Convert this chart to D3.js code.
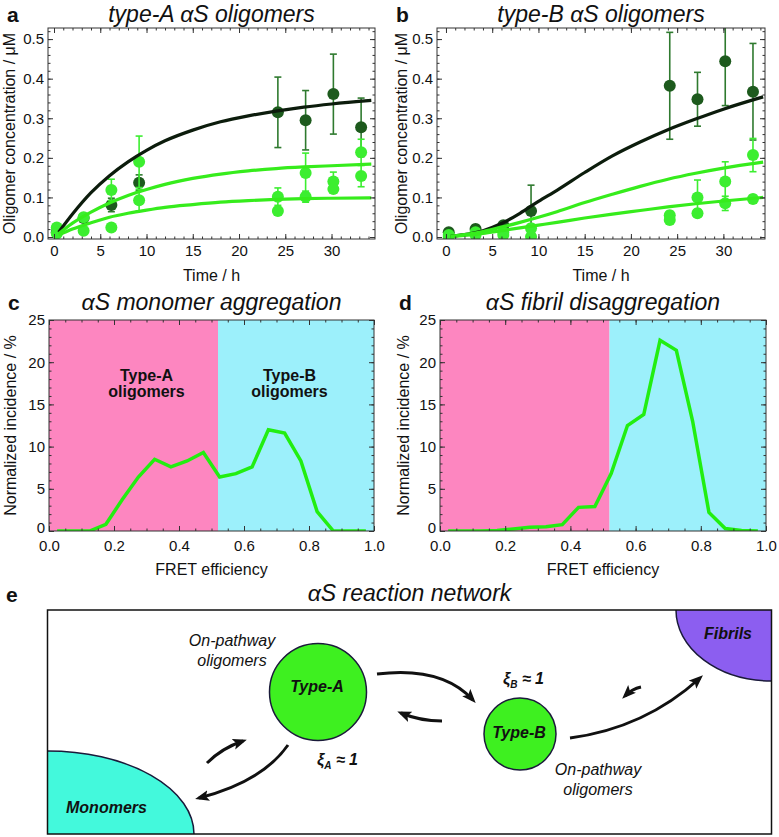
<!DOCTYPE html>
<html>
<head>
<meta charset="utf-8">
<script src="https://cdn.jsdelivr.net/npm/d3@7/dist/d3.min.js"></script>
<style>
  body { margin: 0; background: #fff; }
  svg { display: block; }
  text { font-family: "Liberation Sans", Arial, Helvetica, sans-serif; fill: #111; }
</style>
</head>
<body>
<svg id="fig" width="779" height="837"></svg>
<script>
// ---- values ----
const sampleTimes = [0.3, 3.2, 6.2, 9.2, 24.2, 27.2, 30.2, 33.2];

// a: type-A oligomers (uM)
const typeAHigh    = [0.012, 0.048, 0.081, 0.137, 0.315, 0.295, 0.361, 0.277];
const typeAHighErr = [0.004, 0.008, 0.017, 0.020, 0.089, 0.075, 0.101, 0.074];
const typeAMid     = [0.024, 0.050, 0.119, 0.190, 0.102, 0.162, 0.140, 0.214];
const typeAMidErr  = [0.005, 0.008, 0.027, 0.065, 0.022, 0.050, 0.024, 0.033];
const typeALow     = [0.009, 0.016, 0.024, 0.093, 0.066, 0.102, 0.121, 0.154];
const typeALowErr  = [0.004, 0.005, 0.005, 0.027, 0.008, 0.014, 0.010, 0.027];

// b: type-B oligomers (uM)
const typeBHigh    = [0.012, 0.020, 0.030, 0.066, 0.382, 0.348, 0.444, 0.367];
const typeBHighErr = [0.004, 0.011, 0.008, 0.065, 0.135, 0.068, 0.112, 0.122];
const typeBMid     = [0.005, 0.012, 0.012, 0.022, 0.055, 0.100, 0.140, 0.207];
const typeBMidErr  = [0.003, 0.004, 0.005, 0.010, 0.010, 0.044, 0.050, 0.042];
const typeBLow     = [0.000, 0.005, 0.005, 0.001, 0.043, 0.060, 0.085, 0.096];
const typeBLowErr  = [0.002, 0.003, 0.003, 0.003, 0.006, 0.010, 0.018, 0.010];

// model curves
const fitTimes = [0.5, 2, 4, 6, 8, 10, 12, 15, 18, 21, 24, 27, 30, 34.3];
const fitAHigh = [0.012, 0.058, 0.112, 0.155, 0.190, 0.219, 0.243, 0.270, 0.291, 0.306, 0.318, 0.328, 0.336, 0.345];
const fitAMid  = [0.008, 0.035, 0.063, 0.086, 0.105, 0.120, 0.133, 0.148, 0.159, 0.167, 0.173, 0.177, 0.180, 0.184];
const fitALow  = [0.005, 0.020, 0.036, 0.050, 0.060, 0.068, 0.075, 0.082, 0.088, 0.092, 0.095, 0.097, 0.098, 0.099];
const fitBHigh = [0.002, 0.006, 0.016, 0.034, 0.060, 0.090, 0.118, 0.163, 0.205, 0.240, 0.271, 0.298, 0.323, 0.354];
const fitBMid  = [0.002, 0.006, 0.014, 0.025, 0.037, 0.050, 0.064, 0.087, 0.108, 0.128, 0.146, 0.161, 0.174, 0.189];
const fitBLow  = [0.001, 0.004, 0.009, 0.016, 0.023, 0.030, 0.037, 0.048, 0.058, 0.067, 0.076, 0.084, 0.091, 0.100];

// c, d: FRET efficiency histograms (%)
const fretBins = [0.025, 0.075, 0.125, 0.175, 0.225, 0.275, 0.325, 0.375, 0.425, 0.475,
                  0.525, 0.575, 0.625, 0.675, 0.725, 0.775, 0.825, 0.875, 0.925, 0.975];
const monomerAggregation   = [0, 0, 0, 0.8, 3.7, 6.4, 8.5, 7.6, 8.3, 9.3,
                              6.4, 6.8, 7.6, 12.0, 11.6, 8.3, 2.3, 0, 0, 0];
const fibrilDisaggregation = [0, 0, 0, 0.05, 0.25, 0.45, 0.5, 0.75, 2.8, 2.9,
                              6.8, 12.5, 13.8, 22.6, 21.4, 13.0, 2.2, 0.3, 0.05, 0];
const typeSplit = 0.52;

const timeTicks = [0, 5, 10, 15, 20, 25, 30];
const concTicks = [0, 0.1, 0.2, 0.3, 0.4, 0.5];
const fretTicks = [0, 0.2, 0.4, 0.6, 0.8, 1.0];
const incidenceTicks = [0, 5, 10, 15, 20, 25];

let darkGreen = "#1d5a1d";
let darkBar = "#2f7a2f";
let lightGreen = "#3cee30";
let fitDark = "#0c1c0c";
let fitLight = "#36ec1c";
let pink = "#fd86c0";
let cyan = "#9cf0fb";
let lineGreen = "#22ee11";

const svg = d3.select("#fig");
const defs = svg.append("defs");

function makePanel(name, box, xDomain, yDomain) {
  let g = svg.append("g").attr("transform", "translate(" + box.x + "," + box.y + ")");
  let x = d3.scaleLinear().domain(xDomain).range([0, box.w]);
  let y = d3.scaleLinear().domain(yDomain).range([box.h, 0]);
  defs.append("clipPath").attr("id", "clip-" + name)
    .append("rect").attr("width", box.w).attr("height", box.h);
  let plot = g.append("g").attr("clip-path", "url(#clip-" + name + ")");
  return {g: g, plot: plot, x: x, y: y, box: box};
}

function inside(vals, scale) {
  let d = scale.domain();
  return vals.filter(v => v >= d[0] - 1e-9 && v <= d[1] + 1e-9);
}

function finishFrame(p, xMajor, xMinor, yMajor, yMinor, xFmt, yFmt, xPad) {
  let x = p.x, y = p.y, box = p.box;
  let axes = p.g.append("g");
  let put = (axis, tx, ty) => axes.append("g").attr("transform", "translate(" + tx + "," + ty + ")").call(axis);
  xMinor = inside(xMinor, x);
  yMinor = inside(yMinor, y);
  put(d3.axisBottom(x).tickValues(xMajor).tickSize(-5).tickPadding(xPad).tickFormat(xFmt), 0, box.h);
  put(d3.axisBottom(x).tickValues(xMinor).tickSize(-2.5).tickFormat(""), 0, box.h);
  put(d3.axisTop(x).tickValues(xMajor).tickSize(-5).tickFormat(""), 0, 0);
  put(d3.axisTop(x).tickValues(xMinor).tickSize(-2.5).tickFormat(""), 0, 0);
  put(d3.axisLeft(y).tickValues(yMajor).tickSize(-5).tickPadding(4).tickFormat(yFmt), 0, 0);
  put(d3.axisLeft(y).tickValues(yMinor).tickSize(-2.5).tickFormat(""), 0, 0);
  put(d3.axisRight(y).tickValues(yMajor).tickSize(-5).tickFormat(""), box.w, 0);
  put(d3.axisRight(y).tickValues(yMinor).tickSize(-2.5).tickFormat(""), box.w, 0);
  axes.selectAll(".domain").remove();
  axes.selectAll(".tick line").attr("stroke", "#333");
  axes.selectAll(".tick text").attr("fill", "#111")
    .style("font-family", "'Liberation Sans', Arial, sans-serif")
    .style("font-size", "15px");
  p.g.append("rect").attr("width", box.w).attr("height", box.h)
    .attr("fill", "none").attr("stroke", "#333").attr("stroke-width", 1);
}

function panelText(p, letter, title, xLabel, yLabel, yLabelX, xLabelY, titleY) {
  let box = p.box;
  svg.append("text").attr("x", box.x - 41).attr("y", titleY)
    .text(letter).style("font-weight", "bold").style("font-size", "21px");
  svg.append("text").attr("x", box.x + box.w / 2).attr("y", titleY)
    .text(title).attr("text-anchor", "middle")
    .style("font-style", "italic").style("font-size", "23px");
  svg.append("text").attr("x", box.x + box.w / 2).attr("y", box.y + box.h + xLabelY)
    .text(xLabel).attr("text-anchor", "middle").style("font-size", "16px");
  svg.append("text")
    .attr("transform", "translate(" + (box.x - yLabelX) + "," + (box.y + box.h / 2) + ") rotate(-90)")
    .text(yLabel).attr("text-anchor", "middle").style("font-size", "16px");
}

function drawSeries(p, values, errs, color, barColor) {
  let pts = sampleTimes.map((t, i) => ({t: t, v: values[i], e: errs[i]}));
  let bars = p.plot.append("g").attr("stroke", barColor).attr("stroke-width", 1.6);
  bars.selectAll("line.bar").data(pts).join("line").attr("class", "bar")
    .attr("x1", d => p.x(d.t)).attr("x2", d => p.x(d.t))
    .attr("y1", d => p.y(d.v - d.e)).attr("y2", d => p.y(d.v + d.e));
  bars.selectAll("line.capTop").data(pts).join("line").attr("class", "capTop")
    .attr("x1", d => p.x(d.t) - 3.5).attr("x2", d => p.x(d.t) + 3.5)
    .attr("y1", d => p.y(d.v + d.e)).attr("y2", d => p.y(d.v + d.e));
  bars.selectAll("line.capBot").data(pts).join("line").attr("class", "capBot")
    .attr("x1", d => p.x(d.t) - 3.5).attr("x2", d => p.x(d.t) + 3.5)
    .attr("y1", d => p.y(d.v - d.e)).attr("y2", d => p.y(d.v - d.e));
  p.plot.append("g").selectAll("circle").data(pts).join("circle")
    .attr("cx", d => p.x(d.t)).attr("cy", d => p.y(d.v)).attr("r", 6)
    .attr("fill", color);
}

function drawFit(p, values, color) {
  let line = d3.line().x(d => p.x(d[0])).y(d => p.y(d[1])).curve(d3.curveMonotoneX);
  p.plot.append("path").datum(fitTimes.map((t, i) => [t, values[i]]))
    .attr("d", line).attr("fill", "none").attr("stroke", color).attr("stroke-width", 3.2);
}

// ---- panels a, b ----
let timeMinor = d3.range(0, 35, 1);
let concMinor = d3.range(0, 0.54, 0.02);

let pa = makePanel("a", {x: 48, y: 28, w: 327, h: 211}, [-0.65, 34.7], [-0.005, 0.528]);
let pb = makePanel("b", {x: 437, y: 28, w: 328, h: 211}, [-0.97, 34.5], [-0.005, 0.528]);

drawSeries(pa, typeAHigh, typeAHighErr, darkGreen, darkBar);
drawSeries(pa, typeAMid, typeAMidErr, lightGreen, lightGreen);
drawSeries(pa, typeALow, typeALowErr, lightGreen, lightGreen);
drawFit(pa, fitAHigh, fitDark);
drawFit(pa, fitAMid, fitLight);
drawFit(pa, fitALow, fitLight);

drawSeries(pb, typeBHigh, typeBHighErr, darkGreen, darkBar);
drawSeries(pb, typeBMid, typeBMidErr, lightGreen, lightGreen);
drawSeries(pb, typeBLow, typeBLowErr, lightGreen, lightGreen);
drawFit(pb, fitBHigh, fitDark);
drawFit(pb, fitBMid, fitLight);
drawFit(pb, fitBLow, fitLight);

[pa, pb].forEach(p => finishFrame(p, timeTicks, timeMinor, concTicks, concMinor, d3.format("d"), d3.format(".1f"), 6));
panelText(pa, "a", "type-A \u03b1S oligomers", "Time / h", "Oligomer concentration / \u03bcM", 33, 42, 22);
panelText(pb, "b", "type-B \u03b1S oligomers", "Time / h", "Oligomer concentration / \u03bcM", 30, 42, 22);

// ---- panels c, d ----
let fretMinor = d3.range(0, 1.001, 0.05);
let incMinor = d3.range(0, 25.1, 1);

function drawHist(p, values, labels) {
  p.plot.append("rect").attr("x", p.x(0)).attr("y", 0)
    .attr("width", p.x(typeSplit) - p.x(0)).attr("height", p.box.h).attr("fill", pink);
  p.plot.append("rect").attr("x", p.x(typeSplit)).attr("y", 0)
    .attr("width", p.x(1) - p.x(typeSplit)).attr("height", p.box.h).attr("fill", cyan);
  if (labels) {
    [["Type-A", 0.30], ["Type-B", 0.74]].forEach(l => {
      let t = p.plot.append("text").attr("text-anchor", "middle")
        .style("font-weight", "bold").style("font-size", "16px");
      t.append("tspan").attr("x", p.x(l[1])).attr("y", 61).text(l[0]);
      t.append("tspan").attr("x", p.x(l[1])).attr("y", 77).text("oligomers");
    });
  }
  let line = d3.line().x((d, i) => p.x(fretBins[i])).y(d => p.y(d));
  p.plot.append("path").datum(values).attr("d", line)
    .attr("fill", "none").attr("stroke", lineGreen).attr("stroke-width", 3.5)
    .attr("stroke-linejoin", "miter");
}

let pc = makePanel("c", {x: 49, y: 320, w: 325, h: 211}, [0, 1], [0, 25]);
let pd = makePanel("d", {x: 440, y: 320, w: 326, h: 211}, [0, 1], [0, 25]);
drawHist(pc, monomerAggregation, true);
drawHist(pd, fibrilDisaggregation, false);
[pc, pd].forEach(p => finishFrame(p, fretTicks, fretMinor, incidenceTicks, incMinor, d3.format(".1f"), d3.format("d"), 9));
// lift the bottom "0" a little so it clears the x tick labels
[pc, pd].forEach(p => p.g.selectAll(".tick text").filter(function(d) { return d === 0 && this.textContent === "0"; })
  .attr("dy", "0.1em"));
panelText(pc, "c", "\u03b1S monomer aggregation", "FRET efficiency", "Normalized incidence / %", 33, 44, 310);
panelText(pd, "d", "\u03b1S fibril disaggregation", "FRET efficiency", "Normalized incidence / %", 31, 44, 310);

// ---- panel e: reaction network ----
let e = svg.append("g");
let eBox = {x: 47.5, y: 610, w: 724, h: 224};
defs.append("clipPath").attr("id", "clip-e").append("rect")
  .attr("x", eBox.x).attr("y", eBox.y).attr("width", eBox.w).attr("height", eBox.h);

svg.append("text").attr("x", 6).attr("y", 602).text("e")
  .style("font-weight", "bold").style("font-size", "21px");
svg.append("text").attr("x", eBox.x + eBox.w / 2).attr("y", 601).text("\u03b1S reaction network")
  .attr("text-anchor", "middle").style("font-style", "italic").style("font-size", "23px");

let shapes = e.append("g").attr("clip-path", "url(#clip-e)");
shapes.append("ellipse").attr("cx", eBox.x).attr("cy", eBox.y + eBox.h).attr("rx", 146.5).attr("ry", 83)
  .attr("fill", "#43f9dc").attr("stroke", "#1a1a3a").attr("stroke-width", 1.5);
shapes.append("ellipse").attr("cx", eBox.x + eBox.w).attr("cy", eBox.y).attr("rx", 95.5).attr("ry", 71)
  .attr("fill", "#8c5ef0").attr("stroke", "#1a1a3a").attr("stroke-width", 1.5);

e.append("rect").attr("x", eBox.x).attr("y", eBox.y).attr("width", eBox.w).attr("height", eBox.h)
  .attr("fill", "none").attr("stroke", "#111").attr("stroke-width", 1.5);

let nodes = [
  {label: "Type-A", cx: 318, cy: 692, r: 48.5, ty: 692},
  {label: "Type-B", cx: 520, cy: 734, r: 36, ty: 738}
];
e.selectAll("circle.node").data(nodes).join("circle").attr("class", "node")
  .attr("cx", d => d.cx).attr("cy", d => d.cy).attr("r", d => d.r)
  .attr("fill", "#3ef020").attr("stroke", "#1a1a3a").attr("stroke-width", 1.5);
e.selectAll("text.node").data(nodes).join("text").attr("class", "node")
  .attr("x", d => d.cx - 1).attr("y", d => d.ty).text(d => d.label)
  .attr("text-anchor", "middle").style("font-weight", "bold").style("font-style", "italic")
  .style("font-size", "16px");

function boldItalic(sel, size) {
  return sel.style("font-weight", "bold").style("font-style", "italic").style("font-size", size);
}
boldItalic(e.append("text").attr("x", 66).attr("y", 813).text("Monomers"), "16px");
boldItalic(e.append("text").attr("x", 728).attr("y", 639).attr("text-anchor", "middle").text("Fibrils"), "16px");

[[232, 646], [598, 775]].forEach(pos => {
  let t = e.append("text").attr("text-anchor", "middle").style("font-style", "italic").style("font-size", "16px");
  t.append("tspan").attr("x", pos[0]).attr("y", pos[1]).text("On-pathway");
  t.append("tspan").attr("x", pos[0]).attr("y", pos[1] + 20).text("oligomers");
});

[["A", 317, 765], ["B", 503, 684]].forEach(xi => {
  let t = boldItalic(e.append("text").attr("x", xi[1]).attr("y", xi[2]), "16px");
  t.append("tspan").text("\u03be");
  t.append("tspan").attr("dy", 4).style("font-size", "10px").text(xi[0]);
  t.append("tspan").attr("dy", -4).text(" \u2248 1");
});

defs.append("marker").attr("id", "arrow").attr("viewBox", "0 -6 14 12")
  .attr("refX", 10).attr("refY", 0).attr("markerWidth", 14).attr("markerHeight", 12)
  .attr("markerUnits", "userSpaceOnUse").attr("orient", "auto")
  .append("path").attr("d", "M0,-5.5L14,0L0,5.5L3,0Z").attr("fill", "#111");

let arrows = [
  "M377,674 Q442,666 473,700",
  "M442,721 Q420,721 401,713",
  "M570,738 Q645,728 700,678",
  "M641,687 Q632,689 625,696",
  "M288,745 Q262,782 199,798",
  "M207,763 Q222,748 243,741"
];
e.selectAll("path.arrow").data(arrows).join("path").attr("class", "arrow")
  .attr("d", d => d).attr("fill", "none").attr("stroke", "#111").attr("stroke-width", 3)
  .attr("marker-end", "url(#arrow)");
</script>
</body>
</html>
